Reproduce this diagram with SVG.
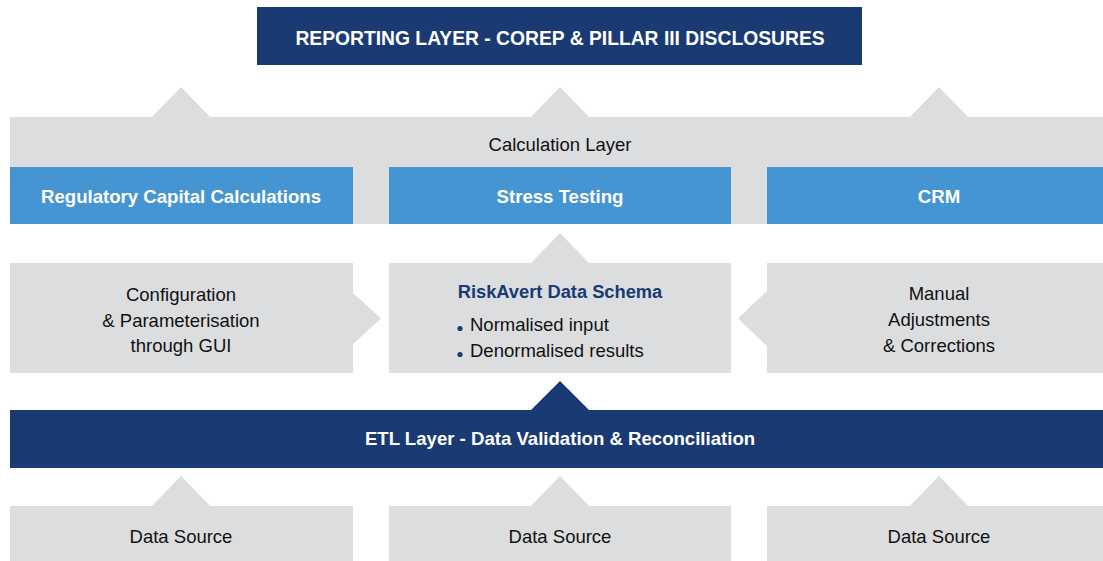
<svg xmlns="http://www.w3.org/2000/svg" width="1103" height="561" viewBox="0 0 1103 561">
<style>
.navy{fill:#1a3a73}
.blue{fill:#4595d2}
.gray{fill:#dcdddf}
text{font-family:"Liberation Sans",Arial,sans-serif;text-anchor:middle}
.wb{fill:#ffffff;font-weight:bold;font-size:18.6px}
.t{fill:#111111;font-size:18.5px}
.nb{fill:#1a3a73;font-weight:bold;font-size:18.3px}
</style>
<rect width="1103" height="561" fill="#ffffff"/>
<g id="connectors">
  <polygon class="gray" points="151,118 181,87 211,118"/>
  <polygon class="gray" points="530,118 560,87 590,118"/>
  <polygon class="gray" points="909,118 939,87 969,118"/>
  <polygon class="gray" points="530,264 560,233 590,264"/>
  <polygon class="gray" points="352,292 381,318.5 352,345"/>
  <polygon class="gray" points="768,290 738,318.5 768,347"/>
  <polygon class="navy" points="530,411 560,381 590,411"/>
  <polygon class="gray" points="151,507 181,476 211,507"/>
  <polygon class="gray" points="530,507 560,476 590,507"/>
  <polygon class="gray" points="909,507 939,476 969,507"/>
</g>
<g id="reporting-layer">
  <rect class="navy" x="257" y="7" width="605" height="58"/>
  <text class="wb" x="560" y="45" style="font-size:19.3px">REPORTING LAYER - COREP &amp; PILLAR III DISCLOSURES</text>
</g>
<g id="calculation-layer">
  <rect class="gray" x="10" y="117" width="1093" height="107"/>
  <text class="t" x="560" y="151">Calculation Layer</text>
</g>
<g id="regulatory-capital">
  <rect class="blue" x="10" y="167" width="343" height="57"/>
  <text class="wb" x="181" y="203">Regulatory Capital Calculations</text>
</g>
<g id="stress-testing">
  <rect class="blue" x="389" y="167" width="342" height="57"/>
  <text class="wb" x="560" y="203">Stress Testing</text>
</g>
<g id="crm">
  <rect class="blue" x="767" y="167" width="336" height="57"/>
  <text class="wb" x="939" y="203">CRM</text>
</g>
<g id="configuration">
  <rect class="gray" x="10" y="263" width="343" height="110"/>
  <text class="t" x="181" y="301">Configuration</text>
  <text class="t" x="181" y="327">&amp; Parameterisation</text>
  <text class="t" x="181" y="352">through GUI</text>
</g>
<g id="data-schema">
  <rect class="gray" x="389" y="263" width="342" height="110"/>
  <text class="nb" x="560" y="298">RiskAvert Data Schema</text>
  <circle class="navy" cx="460" cy="328.5" r="2.6"/>
  <circle class="navy" cx="460" cy="354.5" r="2.6"/>
  <text class="t" x="470" y="331" style="text-anchor:start">Normalised input</text>
  <text class="t" x="470" y="357" style="text-anchor:start">Denormalised results</text>
</g>
<g id="manual-adjustments">
  <rect class="gray" x="767" y="263" width="336" height="110"/>
  <text class="t" x="939" y="300">Manual</text>
  <text class="t" x="939" y="326">Adjustments</text>
  <text class="t" x="939" y="352">&amp; Corrections</text>
</g>
<g id="etl-layer">
  <rect class="navy" x="10" y="410" width="1093" height="58"/>
  <text class="wb" x="560" y="445">ETL Layer - Data Validation &amp; Reconciliation</text>
</g>
<g id="data-source-1">
  <rect class="gray" x="10" y="506" width="343" height="55"/>
  <text class="t" x="181" y="543">Data Source</text>
</g>
<g id="data-source-2">
  <rect class="gray" x="389" y="506" width="342" height="55"/>
  <text class="t" x="560" y="543">Data Source</text>
</g>
<g id="data-source-3">
  <rect class="gray" x="767" y="506" width="336" height="55"/>
  <text class="t" x="939" y="543">Data Source</text>
</g>
</svg>
